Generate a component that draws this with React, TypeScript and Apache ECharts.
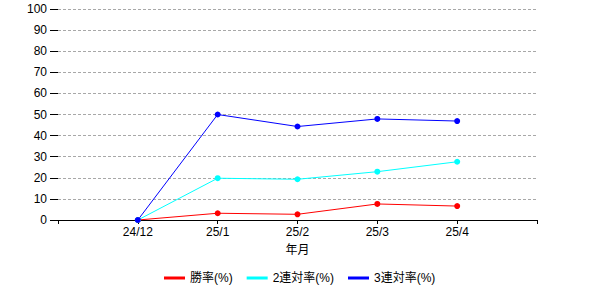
import React, { useEffect, useRef } from "react";
import * as echarts from "echarts";

const categories = ["24/12", "25/1", "25/2", "25/3", "25/4"];
const winRate = [0, 3.2, 2.7, 7.6, 6.6];
const quinellaRate = [0, 19.8, 19.3, 22.9, 27.6];
const showRate = [0, 50, 44.3, 47.9, 46.9];
const yTicks = [0, 10, 20, 30, 40, 50, 60, 70, 80, 90, 100];

const FONT = "'Liberation Sans', 'Noto Sans CJK JP', sans-serif";

export default function App() {
  const ref = useRef<HTMLDivElement>(null);
  useEffect(() => {
    if (!ref.current) return;
    const chart = echarts.init(ref.current, undefined, { renderer: "svg" });
    const toPairs = (arr: number[]) => arr.map((v, i) => [i + 1, v]);
    const mk = (name: string, color: string, data: number[]) => ({
      name,
      type: "line",
      data: toPairs(data),
      symbol: "circle",
      symbolSize: 6,
      lineStyle: { color, width: 1 },
      itemStyle: { color },
      z: 3,
    });
    chart.setOption({
      animation: false,
      textStyle: { fontFamily: FONT },
      grid: { left: 58, right: 63, top: 9, bottom: 80, containLabel: false },
      legend: {
        bottom: 11,
        left: 159,
        icon: "rect",
        itemWidth: 21,
        itemHeight: 3,
        itemGap: 14,
        textStyle: { fontFamily: FONT, fontSize: 12, color: "#000" },
        data: ["勝率(%)", "2連対率(%)", "3連対率(%)"],
      },
      xAxis: {
        type: "value",
        min: 0,
        max: 6,
        interval: 1,
        name: "年月",
        nameLocation: "middle",
        nameGap: 24,
        nameTextStyle: { color: "#000", fontSize: 12, fontFamily: FONT },
        axisLine: { show: true, lineStyle: { color: "#000", width: 1 } },
        axisTick: { show: true, length: 4, lineStyle: { color: "#000" } },
        splitLine: { show: false },
        axisLabel: {
          color: "#000",
          fontSize: 12,
          margin: 6,
          fontFamily: FONT,
          formatter: (v: number) => categories[v - 1] ?? "",
        },
      },
      yAxis: {
        type: "value",
        min: yTicks[0],
        max: yTicks[yTicks.length - 1],
        interval: 10,
        axisLine: { show: false },
        axisTick: { show: true, length: 8, lineStyle: { color: "#000" } },
        splitLine: { show: true, lineStyle: { color: "#a8a8a8", type: [3, 2], width: 1 } },
        axisLabel: { color: "#000", fontSize: 12, margin: 11, fontFamily: FONT },
      },
      series: [
        mk("勝率(%)", "#ff0000", winRate),
        mk("2連対率(%)", "#00ffff", quinellaRate),
        mk("3連対率(%)", "#0000ff", showRate),
      ],
    });
    return () => chart.dispose();
  }, []);
  return <div ref={ref} style={{ width: 600, height: 300, position: "absolute", left: 0, top: 0, background: "#fff" }} />;
}
